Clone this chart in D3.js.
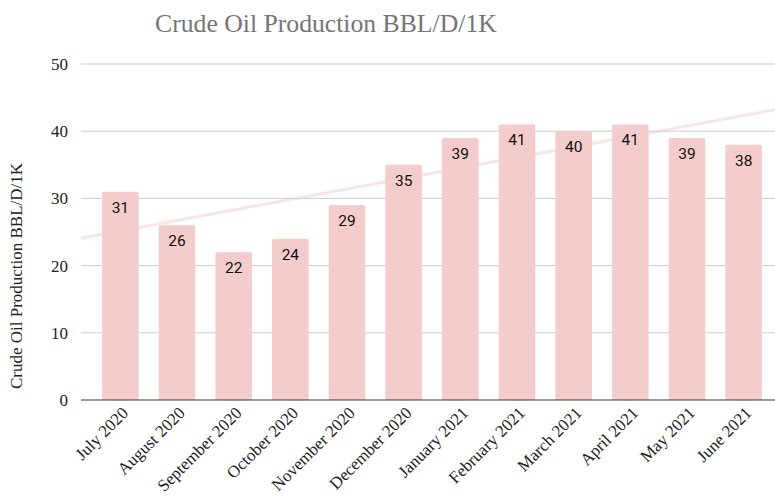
<!DOCTYPE html>
<html>
<head>
  <script src="https://d3js.org/d3.v7.min.js"></script>
  <style>
    body { margin: 0; background: #fff; }
  </style>
</head>
<body>
  <div id="chart"></div>
  <script>
// Chart data
const months = ["July 2020", "August 2020", "September 2020", "October 2020", "November 2020", "December 2020",
  "January 2021", "February 2021", "March 2021", "April 2021", "May 2021", "June 2021"];
const production = [31, 26, 22, 24, 29, 35, 39, 41, 40, 41, 39, 38];
const yTicks = [0, 10, 20, 30, 40, 50];

const W = 775, H = 501;
const plotLeft = 81, plotRight = 775, plotTop = 64, plotBottom = 400;
const serif = "Liberation Serif, Times New Roman, serif";

const svg = d3.select("#chart")
  .append("svg")
  .attr("width", W)
  .attr("height", H);

// Scales
const x = d3.scaleBand()
  .domain(months)
  .range([92, 772])
  .paddingInner(0.355)
  .paddingOuter(0.178);

const y = d3.scaleLinear()
  .domain([0, 50])
  .range([plotBottom, plotTop]);

// Title
svg.append("text")
  .attr("x", 155)
  .attr("y", 32)
  .attr("font-family", serif)
  .attr("font-size", 25.7)
  .attr("fill", "#757575")
  .text("Crude Oil Production BBL/D/1K");

// Gridlines
svg.append("g")
  .selectAll("line")
  .data(yTicks.filter(d => d > 0))
  .enter()
  .append("line")
  .attr("x1", plotLeft)
  .attr("x2", plotRight)
  .attr("y1", d => y(d))
  .attr("y2", d => y(d))
  .attr("stroke", "#cccccc")
  .attr("stroke-width", 1);

// Y tick labels
svg.append("g")
  .selectAll("text")
  .data(yTicks)
  .enter()
  .append("text")
  .attr("x", 68)
  .attr("y", d => y(d) + 6)
  .attr("text-anchor", "end")
  .attr("font-family", serif)
  .attr("font-size", 17)
  .attr("fill", "#222")
  .text(d => d);

// Y axis title
svg.append("text")
  .attr("transform", `translate(22,276) rotate(-90)`)
  .attr("text-anchor", "middle")
  .attr("font-family", serif)
  .attr("font-size", 17)
  .attr("fill", "#222")
  .text("Crude Oil Production BBL/D/1K");

// Trendline (least squares fit over the bars)
const idx = production.map((d, i) => i);
const mx = d3.mean(idx), my = d3.mean(production);
const slope = d3.sum(idx, i => (i - mx) * (production[i] - my)) / d3.sum(idx, i => (i - mx) * (i - mx));
const intercept = my - slope * mx;
const step = x.step();
const c0 = x(months[0]) + x.bandwidth() / 2;
const trendAt = px => intercept + slope * (px - c0) / step;

svg.append("line")
  .attr("x1", plotLeft)
  .attr("x2", plotRight)
  .attr("y1", y(trendAt(plotLeft)))
  .attr("y2", y(trendAt(plotRight)))
  .attr("stroke", "#f4cccc")
  .attr("stroke-opacity", 0.5)
  .attr("stroke-width", 3);

// Bars with rounded tops
function barPath(d, i) {
  const x0 = x(months[i]), w = x.bandwidth();
  const y0 = y(d), r = 2;
  return `M${x0},${plotBottom}V${y0 + r}Q${x0},${y0} ${x0 + r},${y0}H${x0 + w - r}Q${x0 + w},${y0} ${x0 + w},${y0 + r}V${plotBottom}Z`;
}

svg.append("g")
  .selectAll("path")
  .data(production)
  .enter()
  .append("path")
  .attr("d", barPath)
  .attr("fill", "#f4cccc");

// Baseline
svg.append("line")
  .attr("x1", plotLeft)
  .attr("x2", plotRight)
  .attr("y1", plotBottom)
  .attr("y2", plotBottom)
  .attr("stroke", "#333")
  .attr("stroke-width", 1);

// Value labels
svg.append("g")
  .selectAll("text")
  .data(production)
  .enter()
  .append("text")
  .attr("x", (d, i) => x(months[i]) + x.bandwidth() / 2)
  .attr("y", d => y(d) + 21)
  .attr("text-anchor", "middle")
  .attr("font-family", "Roboto, sans-serif")
  .attr("font-size", 15.5)
  .attr("fill", "#111")
  .text(d => d);

// X labels
svg.append("g")
  .selectAll("text")
  .data(months)
  .enter()
  .append("text")
  .attr("transform", d => `translate(${x(d) + x.bandwidth() / 2 + 9},${plotBottom + 14}) rotate(-45)`)
  .attr("text-anchor", "end")
  .attr("font-family", serif)
  .attr("font-size", 17)
  .attr("fill", "#222")
  .text(d => d);
  </script>
</body>
</html>
